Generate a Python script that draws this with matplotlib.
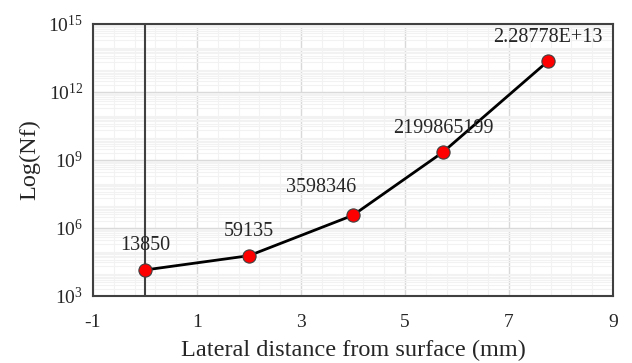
import matplotlib
matplotlib.use("Agg")
import matplotlib.pyplot as plt
import numpy as np
from matplotlib.ticker import FixedLocator, LogLocator, NullFormatter

plt.rcParams["font.family"] = "Liberation Serif"
plt.rcParams["mathtext.fontset"] = "custom"
plt.rcParams["mathtext.rm"] = "Liberation Serif"
plt.rcParams["mathtext.it"] = "Liberation Serif"
plt.rcParams["axes.unicode_minus"] = False

# data
distance = [0, 2, 4, 5.73, 7.75]
cycles = [13850, 59135, 3598346, 2199865199, 2.28778e13]
point_labels = ["13850", "59135", "3598346", "2199865199", "2.28778E+13"]
label_dx = [0, 0, -32, 0, 0]
label_dy = [24, 24, 28, 24, 24]

x_ticks = [-1, 1, 3, 5, 7, 9]
y_ticks = [1e3, 1e6, 1e9, 1e12, 1e15]
y_tick_labels = [r"$10^{3}$", r"$10^{6}$", r"$10^{9}$", r"$10^{12}$", r"$10^{15}$"]

fig = plt.figure(figsize=(6.32, 3.63), dpi=100)
ax = fig.add_axes([0.147, 0.185, 0.823, 0.749])

ax.set_yscale("log")
ax.set_xlim(-1, 9)
ax.set_ylim(1e3, 1e15)

# grid
ax.xaxis.set_major_locator(FixedLocator(x_ticks))
ax.xaxis.set_minor_locator(FixedLocator(np.arange(-1, 9.01, 0.4)))
ax.yaxis.set_major_locator(FixedLocator(y_ticks))
ax.yaxis.set_minor_locator(LogLocator(base=10, subs=np.arange(2, 10), numticks=50))
ax.yaxis.set_minor_formatter(NullFormatter())
ax.set_yticklabels(y_tick_labels)
ax.grid(True, which="major", color="#d9d9d9", linewidth=1.0)
ax.grid(True, which="minor", color="#f2f2f2", linewidth=0.8)
ax.set_axisbelow(True)

# vertical axis line at x = 0
ax.axvline(0, color="#404040", linewidth=1.5, zorder=2)

ax.plot(distance, cycles, color="black", linewidth=2.0, marker="o",
        markersize=9.5, markerfacecolor="#ff0000", markeredgecolor="#404040",
        markeredgewidth=0.8, zorder=3)

for x, y, lab, dx, dy in zip(distance, cycles, point_labels, label_dx, label_dy):
    ax.annotate(lab, (x, y), xytext=(dx, dy), textcoords="offset pixels",
                ha="center", va="center", fontsize=14.5, color="#262626", zorder=4)

for s in ax.spines.values():
    s.set_color("#404040")
    s.set_linewidth(1.5)

ax.tick_params(which="both", length=0)
ax.tick_params(axis="x", labelsize=14, pad=13, colors="#262626")
ax.tick_params(axis="y", labelsize=14, pad=7, colors="#262626")

ax.set_xlabel("Lateral distance from surface (mm)", fontsize=17.5, color="#262626", labelpad=6.5)
ax.set_ylabel("Log(Nf)", fontsize=17.5, color="#262626", labelpad=6)

fig.savefig("out.png", dpi=100)
